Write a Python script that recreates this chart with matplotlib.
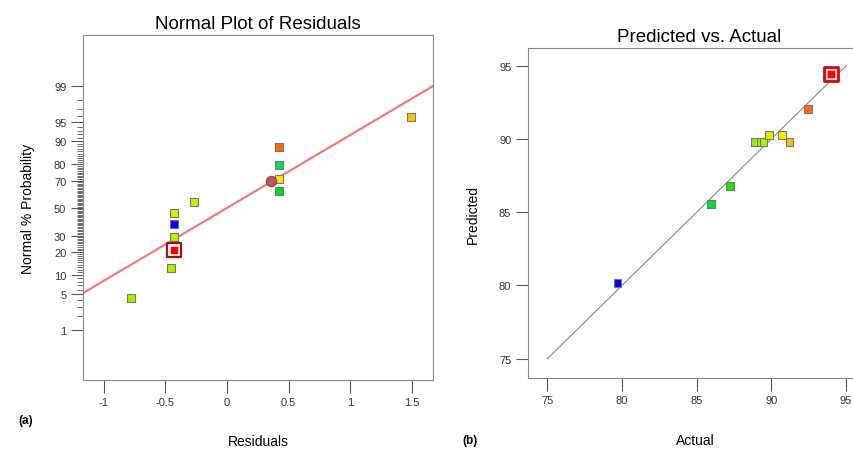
import matplotlib.pyplot as plt
from statistics import NormalDist

plt.rcParams['font.family'] = ['Liberation Sans', 'DejaVu Sans']

# (a) normal plot of residuals
res = [-0.78, -0.454, -0.43, -0.43, -0.43, -0.27, 0.424, 0.424, 0.424, 0.424, 1.49]
pct = [4.3, 12.8, 29.2, 37.8, 46.4, 54.5, 62.7, 71.0, 79.5, 87.7, 95.9]
res_colors = ['#a6ee00', '#b0ec00', '#b6f000', '#0000ff', '#d4f000', '#c4f000',
              '#00dc10', '#ffe800', '#00e050', '#ff6a00', '#ffc000']
hl_res, hl_pct = -0.43, 21.0        # highlighted run
mark_res, mark_pct = 0.357, 69.4    # round marker on the line
line_res = [-1.17, 1.67]
line_pct = [5.2, 99.0]
prob_ticks = [1, 5, 10, 20, 30, 50, 70, 80, 90, 95, 99]

# (b) predicted vs actual
actual = [79.69, 85.94, 87.21, 88.91, 89.27, 89.47, 89.83, 90.7, 91.21, 92.44]
predicted = [80.15, 85.54, 86.79, 89.77, 89.77, 89.77, 90.25, 90.29, 89.77, 92.02]
pred_colors = ['#0000ff', '#00e040', '#20e000', '#a0ea00', '#a8f000', '#b0f000',
               '#d8f000', '#ffe800', '#ffc000', '#ff6a00']
hl_act, hl_pred = 94.02, 94.43

z = NormalDist().inv_cdf

fig = plt.figure(figsize=(8.54, 4.52), dpi=100)
W, H = 854, 452

def box(l, t, r, b):
    return [l / W, 1 - b / H, (r - l) / W, (b - t) / H]

tick_kw = dict(labelsize=8, labelcolor='#333333', color='#555555', direction='out')

# ---- left panel ----
ax1 = fig.add_axes(box(83, 36, 433, 381))
ax1.plot(line_res, [z(p / 100) for p in line_pct], color='#f47a7a', lw=1.6, zorder=2)
ax1.scatter(res, [z(p / 100) for p in pct], marker='s', s=32, c=res_colors,
            edgecolors='#777777', linewidths=0.8, zorder=3)
ax1.scatter([hl_res], [z(hl_pct / 100)], marker='s', s=110, c='white',
            edgecolors='#a01010', linewidths=1.6, zorder=4)
ax1.scatter([hl_res], [z(hl_pct / 100)], marker='s', s=14, c='#ff0000', zorder=5)
ax1.scatter([mark_res], [z(mark_pct / 100)], marker='o', s=55, c='#b85858',
            edgecolors='#884040', linewidths=0.8, zorder=4)
ax1.set_xlim(-1.168, 1.67)
ax1.set_ylim(-3.28, 3.30)
ax1.set_xticks([-1, -0.5, 0, 0.5, 1, 1.5])
ax1.set_xticklabels(['-1', '-0.5', '0', '0.5', '1', '1.5'])
ax1.set_yticks([z(p / 100) for p in prob_ticks])
ax1.set_yticklabels([str(p) for p in prob_ticks])
ax1.set_yticks([z(p / 100) for p in range(1, 100)], minor=True)
ax1.tick_params(which='major', length=9, width=0.8, pad=3, **tick_kw)
ax1.tick_params(axis='y', which='minor', length=4, width=0.6, color='#555555')
ax1.tick_params(axis='x', which='minor', length=0)
for s in ax1.spines.values():
    s.set_color('#888888')
ax1.set_title('Normal Plot of Residuals', fontsize=13.5, pad=5)
ax1.set_ylabel('Normal % Probability', fontsize=10, labelpad=14)
fig.text(258 / W, 1 - 442 / H, 'Residuals', fontsize=10, ha='center', va='center')
fig.text(18 / W, 1 - 421 / H, '(a)', fontsize=8.5, fontweight='bold', ha='left', va='center')

# ---- right panel ----
ax2 = fig.add_axes(box(528, 49, 870, 379))
ax2.plot([75, 95], [75, 95], color='#888888', lw=0.8, zorder=2)
ax2.scatter(actual, predicted, marker='s', s=32, c=pred_colors,
            edgecolors='#777777', linewidths=0.8, zorder=3)
ax2.scatter([hl_act], [hl_pred], marker='s', s=110, c='#c8c8c8',
            edgecolors='#c01010', linewidths=2.0, zorder=4)
ax2.scatter([hl_act], [hl_pred], marker='s', s=14, c='#ff0000', zorder=5)
ax2.set_xlim(73.7, 96.6)
ax2.set_ylim(73.68, 96.2)
ax2.set_xticks([75, 80, 85, 90, 95])
ax2.set_yticks([75, 80, 85, 90, 95])
ax2.tick_params(which='major', length=9, width=0.8, pad=3, **tick_kw)
for s in ax2.spines.values():
    s.set_color('#888888')
ax2.spines['right'].set_visible(False)
ax2.set_title('Predicted vs. Actual', fontsize=13.5, pad=5)
ax2.set_ylabel('Predicted', fontsize=10, labelpad=14)
fig.text(695 / W, 1 - 441 / H, 'Actual', fontsize=10, ha='center', va='center')
fig.text(462 / W, 1 - 441 / H, '(b)', fontsize=8.5, fontweight='bold', ha='left', va='center')

fig.savefig('out.png', dpi=100)
